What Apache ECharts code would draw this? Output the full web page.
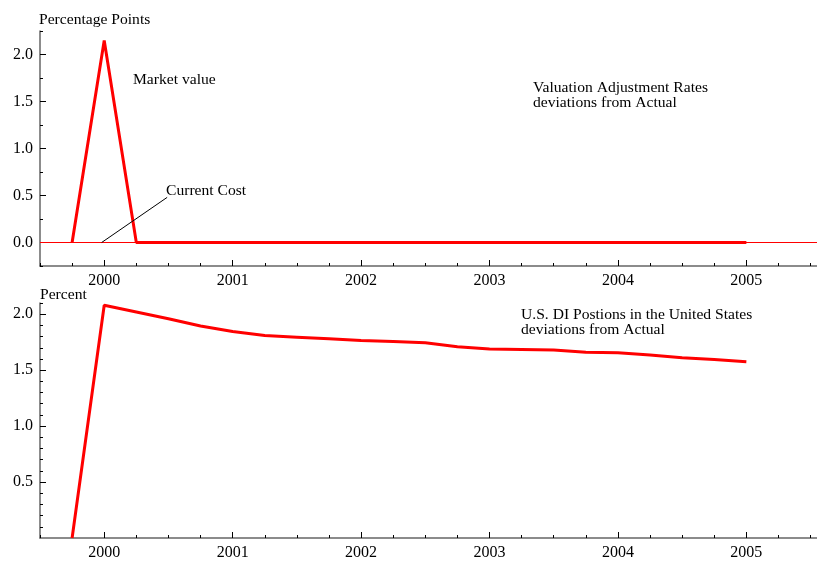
<!DOCTYPE html>
<html>
<head>
<meta charset="utf-8">
<script src="https://cdn.jsdelivr.net/npm/echarts@6/dist/echarts.min.js"></script>
<style>
  html, body { margin: 0; padding: 0; background: #fff; }
  #chart { width: 817px; height: 561px; }
</style>
</head>
<body>
<div id="chart"></div>
<script>
// quarterly dates (decimal years)
var quarters = [1999.75, 2000.0, 2000.25, 2000.5, 2000.75, 2001.0, 2001.25, 2001.5, 2001.75,
  2002.0, 2002.25, 2002.5, 2002.75, 2003.0, 2003.25, 2003.5, 2003.75,
  2004.0, 2004.25, 2004.5, 2004.75, 2005.0];

// top panel: valuation adjustment rates
var marketValue = [0, 2.15, 0, 0, 0, 0, 0, 0, 0, 0, 0, 0, 0, 0, 0, 0, 0, 0, 0, 0, 0, 0];
var currentCost = [0, 0, 0, 0, 0, 0, 0, 0, 0, 0, 0, 0, 0, 0, 0, 0, 0, 0, 0, 0, 0, 0];

// bottom panel: U.S. DI positions
var diPositions = [0, 2.08, 2.02, 1.96, 1.895, 1.845, 1.81, 1.795, 1.78, 1.765, 1.755, 1.745,
  1.71, 1.69, 1.685, 1.68, 1.66, 1.655, 1.635, 1.61, 1.595, 1.575];

var yearLabels = [2000, 2001, 2002, 2003, 2004, 2005];
var topYLabels = [0, 0.5, 1.0, 1.5, 2.0];
var bottomYLabels = [0.5, 1.0, 1.5, 2.0];

var font = 'Liberation Serif';

function pairs(xs, ys) {
  return xs.map(function (x, i) { return [x, ys[i]]; });
}

// minor tick positions
var quarterTicks = [];
for (var q = 1999.5; q <= 2005.5; q += 0.25) {
  if (Math.abs(q - Math.round(q)) > 1e-6) quarterTicks.push(q);
}
var topMinorY = [-0.25, 0.25, 0.75, 1.25, 1.75, 2.25];
var bottomMinorY = [];
for (var v = 1; v <= 21; v++) {
  if (v % 5 !== 0) bottomMinorY.push(v / 10);
}

var chart = echarts.init(document.getElementById('chart'));

var axisLineStyle = { color: '#666', width: 1.5 };

function xMain(grid) {
  return {
    type: 'value', gridIndex: grid, position: 'bottom', offset: 0, min: 1999.5, max: 2005.55,
    axisLine: { show: true, onZero: false, lineStyle: axisLineStyle },
    axisTick: { show: true, inside: true, length: 6, customValues: yearLabels, lineStyle: { color: '#000' } },
    axisLabel: {
      show: true, customValues: yearLabels, margin: 7,
      color: '#000', fontFamily: font, fontSize: 16,
      formatter: function (val) { return String(Math.round(val)); }
    },
    splitLine: { show: false }
  };
}
function xMinor(grid) {
  return {
    type: 'value', gridIndex: grid, position: 'bottom', offset: 0, min: 1999.5, max: 2005.55,
    axisLine: { show: false, onZero: false },
    axisTick: { show: true, inside: true, length: 3, customValues: quarterTicks, lineStyle: { color: '#000' } },
    axisLabel: { show: false },
    splitLine: { show: false }
  };
}
function yMain(grid, min, max, labels) {
  return {
    type: 'value', gridIndex: grid, position: 'left', offset: 0, min: min, max: max,
    axisLine: { show: true, onZero: false, lineStyle: axisLineStyle },
    axisTick: { show: true, inside: true, length: 6, customValues: labels, lineStyle: { color: '#000' } },
    axisLabel: {
      show: true, customValues: labels, margin: 7,
      color: '#000', fontFamily: font, fontSize: 16,
      formatter: function (val) { return val.toFixed(1); }
    },
    splitLine: { show: false }
  };
}
function yMinor(grid, min, max, ticks) {
  return {
    type: 'value', gridIndex: grid, position: 'left', offset: 0, min: min, max: max,
    axisLine: { show: false, onZero: false },
    axisTick: { show: true, inside: true, length: 3, customValues: ticks, lineStyle: { color: '#000' } },
    axisLabel: { show: false },
    splitLine: { show: false }
  };
}

var textStyle = { fill: '#000', font: '15.6px "Liberation Serif"', textVerticalAlign: 'middle' };
function label(x, y, text) {
  return { type: 'text', left: x, top: y, style: Object.assign({ text: text }, textStyle) };
}

var option = {
  animation: false,
  grid: [
    { left: 40, top: 31, width: 777, height: 235 },
    { left: 40, top: 303, width: 777, height: 235 }
  ],
  xAxis: [xMain(0), xMinor(0), xMain(1), xMinor(1)],
  yAxis: [
    yMain(0, -0.25, 2.25, topYLabels),
    yMinor(0, -0.25, 2.25, topMinorY),
    yMain(1, 0, 2.1, bottomYLabels),
    yMinor(1, 0, 2.1, bottomMinorY)
  ],
  series: [
    {
      name: 'zero', type: 'line', xAxisIndex: 0, yAxisIndex: 0, data: [],
      silent: true, z: 1,
      markLine: {
        silent: true, symbol: 'none', label: { show: false },
        lineStyle: { color: '#ff0000', width: 1, type: 'solid' },
        data: [{ yAxis: 0 }]
      }
    },
    {
      name: 'Current Cost', type: 'line', xAxisIndex: 0, yAxisIndex: 0,
      data: pairs(quarters, currentCost), showSymbol: false, z: 2,
      lineStyle: { color: '#000', width: 1 },
      markLine: {
        silent: true, symbol: 'none', label: { show: false },
        lineStyle: { color: '#000', width: 1, type: 'solid' },
        data: [[{ coord: [1999.98, 0] }, { coord: [2000.49, 0.48] }]]
      }
    },
    {
      name: 'Market value', type: 'line', xAxisIndex: 0, yAxisIndex: 0,
      data: pairs(quarters, marketValue), showSymbol: false, z: 3,
      lineStyle: { color: '#ff0000', width: 3 }
    },
    {
      name: 'U.S. DI Positions', type: 'line', xAxisIndex: 2, yAxisIndex: 2,
      data: pairs(quarters, diPositions), showSymbol: false, z: 3,
      lineStyle: { color: '#ff0000', width: 3 }
    }
  ],
  graphic: [
    label(39, 12, 'Percentage Points'),
    label(133, 72, 'Market value'),
    label(166, 183, 'Current Cost'),
    label(533, 80, 'Valuation Adjustment Rates'),
    label(533, 95, 'deviations from Actual'),
    label(40, 287, 'Percent'),
    label(521, 307, 'U.S. DI Postions in the United States'),
    label(521, 322, 'deviations from Actual')
  ]
};

chart.setOption(option);
</script>
</body>
</html>
